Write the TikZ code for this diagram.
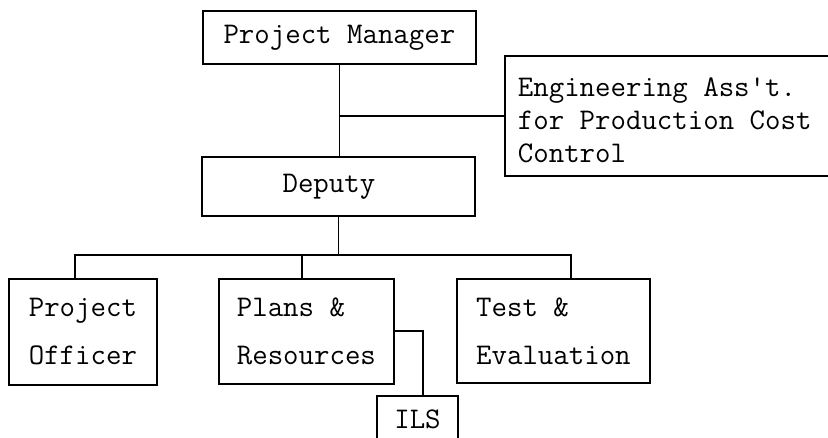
\documentclass[tikz,border=0pt]{standalone}
\usepackage{fontspec}
\setmonofont{Latin Modern Mono}
\begin{document}
\begin{tikzpicture}[x=1pt,y=-1pt,
  line width=1.8pt,
  box/.style={draw, line width=1.8pt, rectangle, inner sep=0pt, align=left,
    font=\fontsize{30}{48}\selectfont\ttfamily},
  txt/.style={inner sep=0pt, align=left,
    font=\fontsize{30}{33}\selectfont\ttfamily}]
\useasboundingbox (0,0) rectangle (828,438);
% boxes
\node[box, anchor=north west, minimum width=273pt, minimum height=53pt] (pm) at (202,10) {Project Manager};
\node[box, anchor=north west, minimum width=337pt, minimum height=120pt] (eng) at (504,55) {};
\node[txt, anchor=west] (engt) at (517,120.5) {Engineering Ass't.\\for Production Cost\\Control};
\node[box, anchor=north west, minimum width=273pt, minimum height=59pt] (dep) at (201,156) {Deputy\hspace{19pt}};
\node[box, anchor=north west, minimum width=148pt, minimum height=106pt] (po) at (8,278) {Project\\Officer};
\node[box, anchor=north west, minimum width=175pt, minimum height=105pt] (pr) at (218,278) {Plans \&\\Resources};
\node[box, anchor=north west, minimum width=193pt, minimum height=104pt] (te) at (456,278) {Test \&\\Evaluation};
\node[box, anchor=north, minimum width=81pt, minimum height=46pt] (ils) at (417.5,395) {ILS};
% connectors
\coordinate (bus) at (338,255);
\draw (pm.south) -- (pm.south |- dep.north);
\draw (eng.west) -- (eng.west -| pm.south);
\draw (dep.south) -- (dep.south |- bus);
\draw ([xshift=-8pt]po.north) |- (bus) -| ([xshift=17.5pt]te.north);
\draw ([xshift=-4.5pt]pr.north) -- ([xshift=-4.5pt]pr.north |- bus);
\draw (pr.east) -| ([xshift=5.5pt]ils.north);
\end{tikzpicture}
\end{document}
